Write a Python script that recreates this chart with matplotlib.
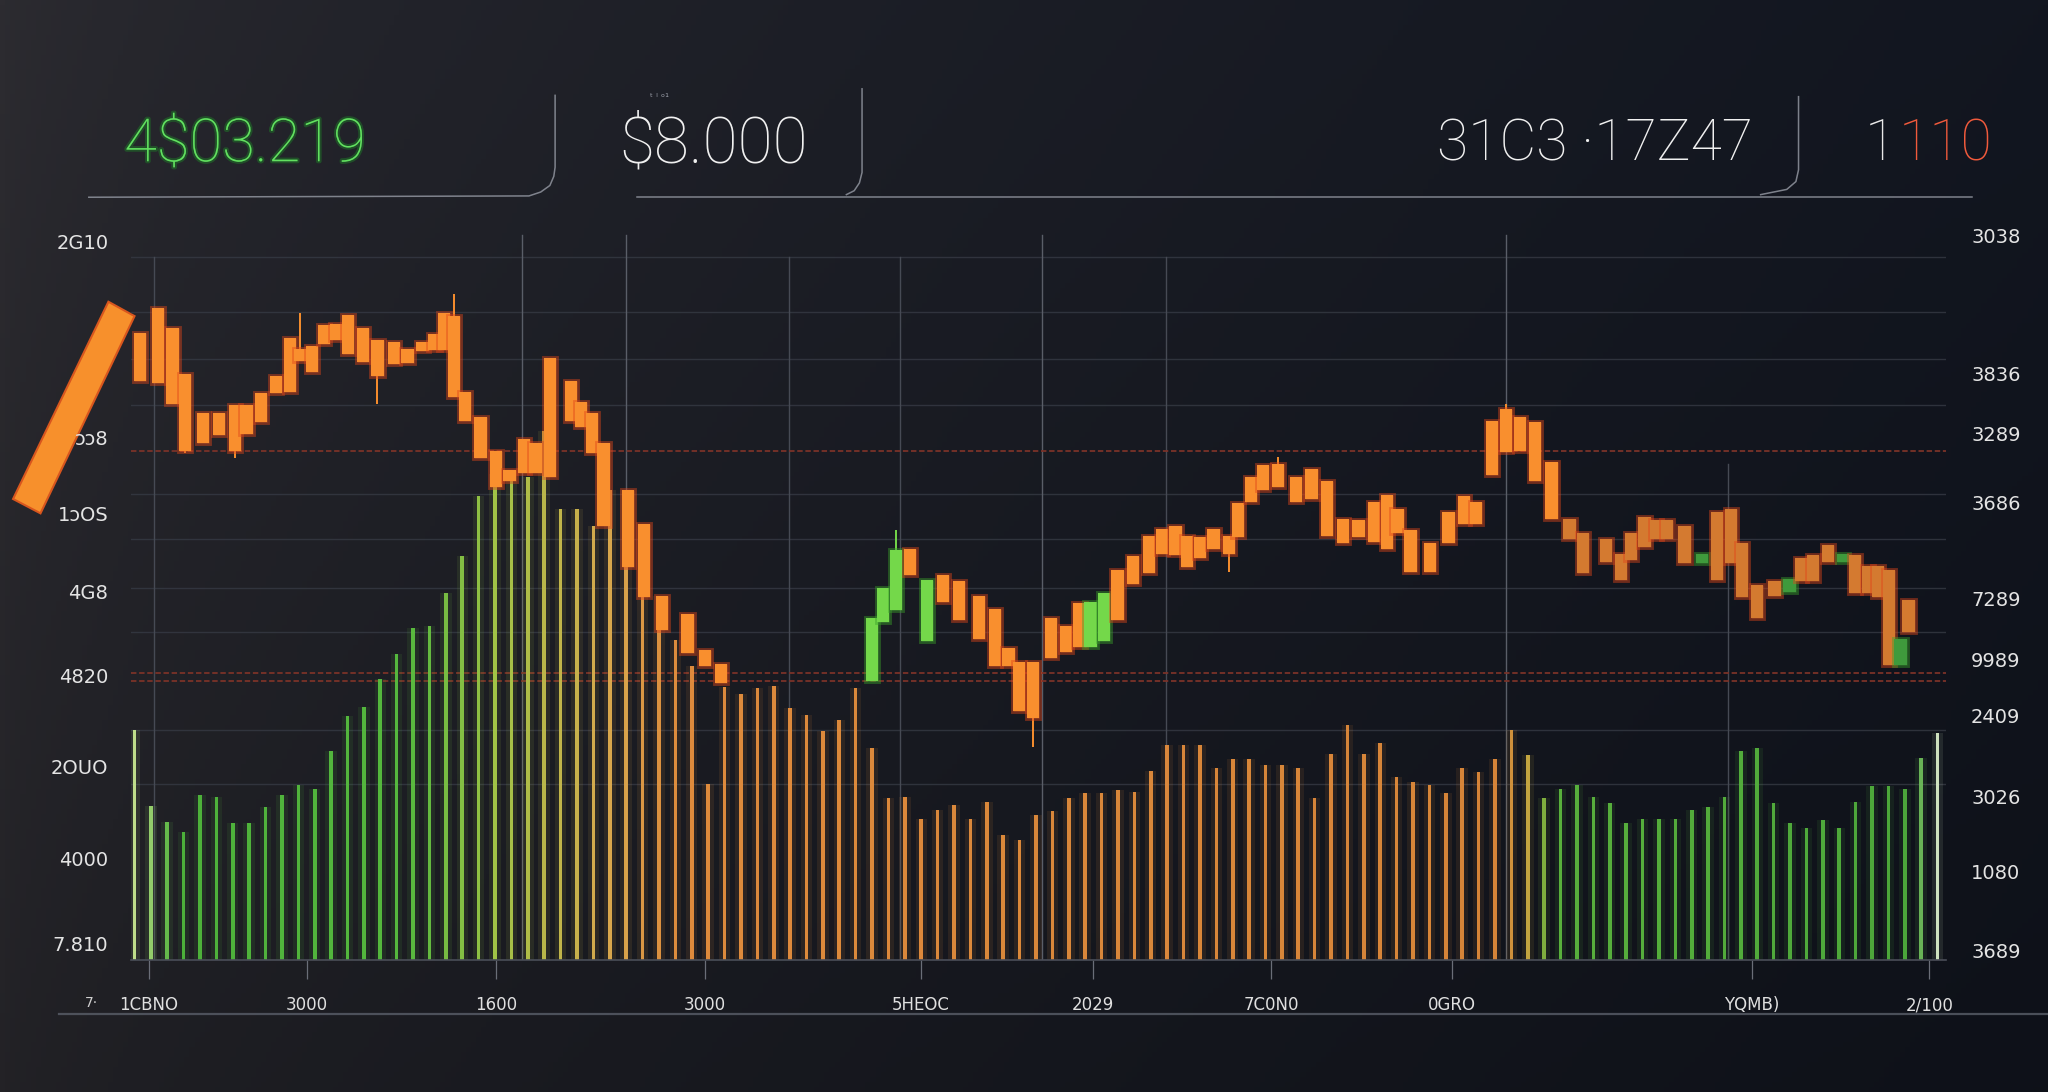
import numpy as np
import matplotlib
matplotlib.use("Agg")
import matplotlib.pyplot as plt
import matplotlib.patheffects as pe
from matplotlib.colors import LinearSegmentedColormap, to_rgb
from matplotlib.patches import Polygon
from matplotlib.lines import Line2D

# ---- data ----------------------------------------------------------------
# candles: session index, open, close, high, low (orange = falling, green = rising)
candle_t = [0.33, 1.44, 2.32, 3.1, 4.19, 5.16, 6.12, 6.84, 7.74, 8.65, 9.49, 10.13,
            10.83, 11.56, 12.32, 13.04, 13.95, 14.83, 15.82, 16.66, 17.58, 18.30,
            18.89, 19.51, 20.17, 21.12, 22.08, 22.88, 23.75, 24.47, 25.35, 26.62,
            27.26, 27.90, 28.61, 30.13, 31.08, 32.18, 33.75, 34.83, 35.78,
            45.0, 45.67, 46.46, 47.31, 48.37, 49.33, 50.29, 51.53, 52.49, 53.32,
            53.98, 54.80, 55.9, 56.82, 57.66, 58.33, 59.13, 59.98, 60.93, 61.88,
            62.70, 63.51, 64.20, 65.01, 65.82, 66.78, 67.34, 68.13, 68.83, 69.78,
            70.84, 71.80, 72.76, 73.71, 74.67, 75.62, 76.42, 77.06, 77.85, 79.05,
            80.17, 81.12, 81.84, 82.80, 83.67, 84.52, 85.43, 86.45, 87.55, 88.35,
            89.78, 90.69, 91.29, 92.12, 92.81, 93.51, 94.56, 95.61, 96.54, 97.38,
            98.06, 98.99, 100.05, 100.96, 101.68, 102.40, 103.32, 104.23, 104.96,
            105.75, 106.35, 107.05, 107.74, 108.22]
candle_open = [480, 499, 484, 449, 419, 419, 425, 425, 434, 447, 476, 468,
               470, 486, 487, 494, 484, 475, 473, 468, 473, 479,
               495, 493, 435, 416, 390, 375, 399, 396, 461, 443,
               427, 419, 396, 360, 334, 279, 265, 237, 227,
               214, 259, 268, 315, 244, 295, 290, 279, 269, 239,
               228, 228, 262, 256, 273, 240, 244, 299, 309, 325,
               330, 332, 325, 324, 330, 325, 350, 370, 379, 380,
               370, 376, 367, 338, 337, 351, 356, 345, 329, 319,
               343, 355, 351, 413, 422, 416, 412, 381, 338, 327,
               322, 311, 327, 339, 337, 337, 332, 304, 343, 345,
               319, 287, 290, 282, 308, 310, 318, 305, 310,
               302, 302, 299, 226, 276]
candle_close = [443, 442, 426, 390, 396, 402, 390, 403, 412, 434, 435, 459,
                450, 472, 475, 464, 458, 447, 456, 457, 466, 467,
                467, 431, 413, 384, 362, 367, 373, 373, 370, 413,
                408, 388, 332, 301, 278, 253, 235, 225, 212,
                262, 285, 314, 295, 291, 274, 260, 246, 225, 225,
                191, 185, 231, 236, 240, 274, 281, 260, 288, 296,
                311, 310, 301, 308, 315, 311, 324, 351, 360, 362,
                351, 353, 325, 319, 324, 320, 315, 327, 297, 297,
                319, 334, 334, 371, 389, 390, 367, 338, 322, 296,
                305, 291, 306, 316, 322, 322, 304, 311, 291, 304,
                278, 262, 279, 292, 290, 290, 305, 311, 281,
                281, 278, 226, 246, 251]
candle_high = [480, 499, 484, 449, 419, 419, 425, 425, 434, 447, 476, 495,
               470, 486, 487, 494, 484, 475, 473, 468, 473, 479,
               495, 510, 435, 416, 390, 375, 399, 396, 461, 443,
               427, 419, 396, 360, 334, 279, 265, 237, 227,
               262, 285, 329, 315, 291, 295, 290, 279, 269, 239,
               228, 228, 262, 256, 273, 274, 281, 299, 309, 325,
               330, 332, 325, 324, 330, 325, 350, 370, 379, 385,
               370, 376, 367, 338, 337, 351, 356, 345, 329, 319,
               343, 355, 351, 413, 426, 416, 412, 381, 338, 327,
               322, 311, 327, 339, 337, 337, 332, 311, 343, 345,
               319, 287, 290, 292, 308, 310, 318, 311, 310,
               302, 302, 299, 246, 276]
candle_low = [443, 442, 426, 388, 396, 402, 384, 403, 412, 434, 435, 459,
              450, 472, 475, 464, 458, 426, 456, 457, 466, 467,
              467, 431, 413, 384, 362, 367, 373, 373, 370, 413,
              408, 388, 332, 301, 278, 253, 235, 225, 212,
              214, 259, 268, 295, 244, 274, 260, 246, 225, 225,
              191, 163, 231, 236, 240, 240, 244, 260, 288, 296,
              311, 310, 301, 308, 315, 297, 324, 351, 360, 362,
              351, 353, 325, 319, 324, 320, 315, 327, 297, 297,
              319, 334, 334, 371, 389, 390, 367, 338, 322, 296,
              305, 291, 306, 316, 322, 322, 304, 304, 291, 304,
              278, 262, 279, 282, 290, 290, 305, 305, 281,
              281, 278, 226, 226, 251]

# volume per session (0..110)
volume = [176, 118, 106, 98, 126, 125, 105, 105, 117, 126,
          134, 131, 160, 187, 194, 215, 234, 254, 256, 281,
          309, 355, 372, 375, 370, 405, 345, 345, 332, 360,
          360, 334, 279, 245, 225, 135, 209, 204, 208, 210,
          193, 188, 175, 184, 208, 162, 124, 125, 108, 115,
          119, 108, 121, 96, 92, 111, 114, 124, 128, 128,
          130, 129, 145, 165, 165, 165, 147, 154, 154, 149,
          149, 147, 124, 158, 180, 158, 166, 140, 136, 134,
          128, 147, 144, 154, 176, 157, 124, 131, 134, 125,
          120, 105, 108, 108, 108, 115, 117, 125, 160, 162,
          120, 105, 101, 107, 101, 121, 133, 133, 131, 155, 174]

left_ticks = [550, 400, 342, 282, 218, 148, 78, 13]
left_labels = ["2G10", "ɔɔ8", "1ɔOS", "4G8", "4820", "2OUO", "4000", "7.810"]
right_ticks = [555, 449, 403, 350, 277, 230, 187, 125, 68, 7]
right_labels = ["3038", "3836", "3289", "3686", "7289", "9989", "2409", "3026", "1080", "3689"]
x_ticks = [0.88, 10.5, 22.08, 34.8, 47.98, 58.49, 69.33, 80.4, 98.65, 109.5]
x_labels = ["1CBNO", "3000", "1600", "3000", "5HEOC", "2029", "7C0N0", "0GRO", "YQMB)", "2/100"]

grid_levels = [538, 496, 460, 425, 357, 322, 285, 251, 176, 135]
red_levels = [390, 220, 214]
vgrid_full = [1.2, 39.93, 46.7, 62.95]
vgrid_tall = [23.67, 29.97, 55.39, 83.67]

header = ["4$03.219", "$8.000", "31C3 ·17Z47", "1", "110"]

# ---- figure -----------------------------------------------------------------
W, H = 1568.0, 836.0   # reference view size used for placing decorations
fig = plt.figure(figsize=(20.48, 10.92), dpi=100)

def fx(x):
    return x / W

def fy(y):
    return 1 - y / H

# background gradient
bg = fig.add_axes([0, 0, 1, 1], zorder=-10)
gx, gy = np.meshgrid(np.linspace(0, 1, 400), np.linspace(0, 1, 220))
left_c = np.array(to_rgb("#2d2c31"))
right_c = np.array(to_rgb("#121620"))
u = (gx ** 0.55)[..., None]
img = left_c * (1 - u) + right_c * u
img = img * (1 - 0.22 * gy[..., None])
bg.imshow(img, aspect="auto", extent=[0, 1, 0, 1], origin="upper")
bg.axis("off")

ax = fig.add_axes([fx(100), fy(735), fx(1490) - fx(100), fy(175) - fy(735)])
ax.set_facecolor("none")
ax.set_xlim(-0.23, 110.52)
ax.set_ylim(0, 560)

# grid
for lv in grid_levels:
    ax.axhline(lv, color="#363a44", lw=1.0, alpha=0.8, zorder=0)
for lv in red_levels:
    ax.axhline(lv, color="#7a3228", lw=1.3, ls=(0, (3, 1.5)), zorder=0.5)
for t in vgrid_full:
    ax.axvline(t, ymin=0, ymax=538 / 560, color="#464a54", lw=1.0, zorder=0)
for t in vgrid_tall:
    ax.axvline(t, ymin=0, ymax=555 / 560, color="#5a5e68", lw=1.0, zorder=0)
ax.axvline(97.21, ymin=0, ymax=380 / 560, color="#464a54", lw=1.0, zorder=0)

# volume bars
vcmap = LinearSegmentedColormap.from_list("vol", [
    (0.0, "#c8e890"), (0.02, "#4fb83c"), (0.15, "#58c040"), (0.2, "#a8cc48"),
    (0.26, "#e0b050"), (0.3, "#e8903e"), (0.76, "#e08a3a"), (0.775, "#c8b444"),
    (0.79, "#5cb83e"), (0.99, "#4fae3c"), (1.0, "#d8ecc8")])
vt = np.arange(len(volume))
vcols = vcmap(vt / (len(volume) - 1))
ax.bar(vt, volume, width=0.7, color=vcols, alpha=0.10, zorder=1)
ax.bar(vt, volume, width=0.22, color=vcols, alpha=0.95, zorder=2)

# candles
ct = np.array(candle_t)
co = np.array(candle_open)
cc = np.array(candle_close)
up = cc > co
body_cols = []
for t, u_ in zip(ct, up):
    if u_:
        body_cols.append("#74d84a" if t < 90 else "#3f9a3c")
    else:
        body_cols.append("#f98f2e" if t < 87 else "#d47a30")
ax.vlines(ct, candle_low, candle_high, colors=body_cols, lw=1.4, zorder=3)
bars = ax.bar(ct, np.abs(cc - co), bottom=np.minimum(co, cc), width=0.75,
              color=body_cols, zorder=4, linewidth=0)
for b, u_ in zip(bars, up):
    glow = "#3aa02a" if u_ else "#e0461a"
    b.set_path_effects([pe.withStroke(linewidth=3.5, foreground=glow, alpha=0.45)])

# axes decorations
for s in ["top", "left", "right"]:
    ax.spines[s].set_visible(False)
ax.spines["bottom"].set_color("#4a4e58")
ax.spines["bottom"].set_linewidth(1.2)
ax.set_yticks(left_ticks)
ax.set_yticklabels(left_labels)
ax.tick_params(axis="y", length=0, pad=16, labelsize=14, labelcolor="#e4e4e4")
ax.set_xticks(x_ticks)
ax.set_xticklabels(x_labels)
ax.tick_params(axis="x", direction="out", length=14, width=0.9, color="#6a6e78",
               pad=12, labelsize=12, labelcolor="#e0e0e0")

ax2 = ax.twinx()
ax2.set_ylim(ax.get_ylim())
for s in ax2.spines.values():
    s.set_visible(False)
ax2.set_yticks(right_ticks)
ax2.set_yticklabels(right_labels)
ax2.tick_params(axis="y", length=0, pad=18, labelsize=14, labelcolor="#e4e4e4")

# orange slanted marker on the left (behind the axis labels)
fig.patches.append(Polygon([(fx(83), fy(231)), (fx(103), fy(242)), (fx(31), fy(393)), (fx(10), fy(382))],
                           closed=True, transform=fig.transFigure, facecolor="#f7902c",
                           edgecolor="#d8561e", lw=1.5, zorder=-1))

# header frames
frame_col = "#8a8e98"
paths = [
    [(68, 151), (405, 150), (414, 147), (421, 142), (424, 135), (425, 128), (425, 73)],
    [(660, 68), (660, 132), (658, 140), (654, 146), (648, 149)],
    [(488, 151), (1510, 151)],
    [(1377, 74), (1377, 130), (1375, 139), (1368, 145), (1348, 149)],
]
for p in paths:
    xs, ys = zip(*p)
    fig.lines.append(Line2D([fx(x) for x in xs], [fy(y) for y in ys], transform=fig.transFigure,
                            color=frame_col, lw=1.1, alpha=0.9))
fig.lines.append(Line2D([fx(45), fx(1568)], [fy(776), fy(776)], transform=fig.transFigure,
                        color="#5a5f6a", lw=1.6, alpha=0.8))

# header values
hfont = dict(family="Roboto", fontweight="light", va="center", ha="left")
fig.text(fx(95), fy(111), header[0], color="#62e060", fontsize=43,
         path_effects=[pe.withStroke(linewidth=3, foreground="#1f7a28", alpha=0.5)], **hfont)
fig.text(fx(474), fy(111), header[1], color="#f0f0f0", fontsize=46, **hfont)
fig.text(fx(1100), fy(111), header[2], color="#f0f0f0", fontsize=41, **hfont)
fig.text(fx(1428), fy(111), header[3], color="#e8e8e8", fontsize=41, **hfont)
fig.text(fx(1454), fy(111), header[4], color="#f05a3c", fontsize=41, **hfont)
fig.text(fx(498), fy(75), "ᵗ ˡ ᵒ¹", color="#9a9ea8", fontsize=7, ha="left", va="center")
fig.text(fx(70), fy(768), "7·", color="#d0d0d0", fontsize=10, ha="center", va="center")

fig.savefig("out.png", dpi=100, facecolor="#1a1d24")
